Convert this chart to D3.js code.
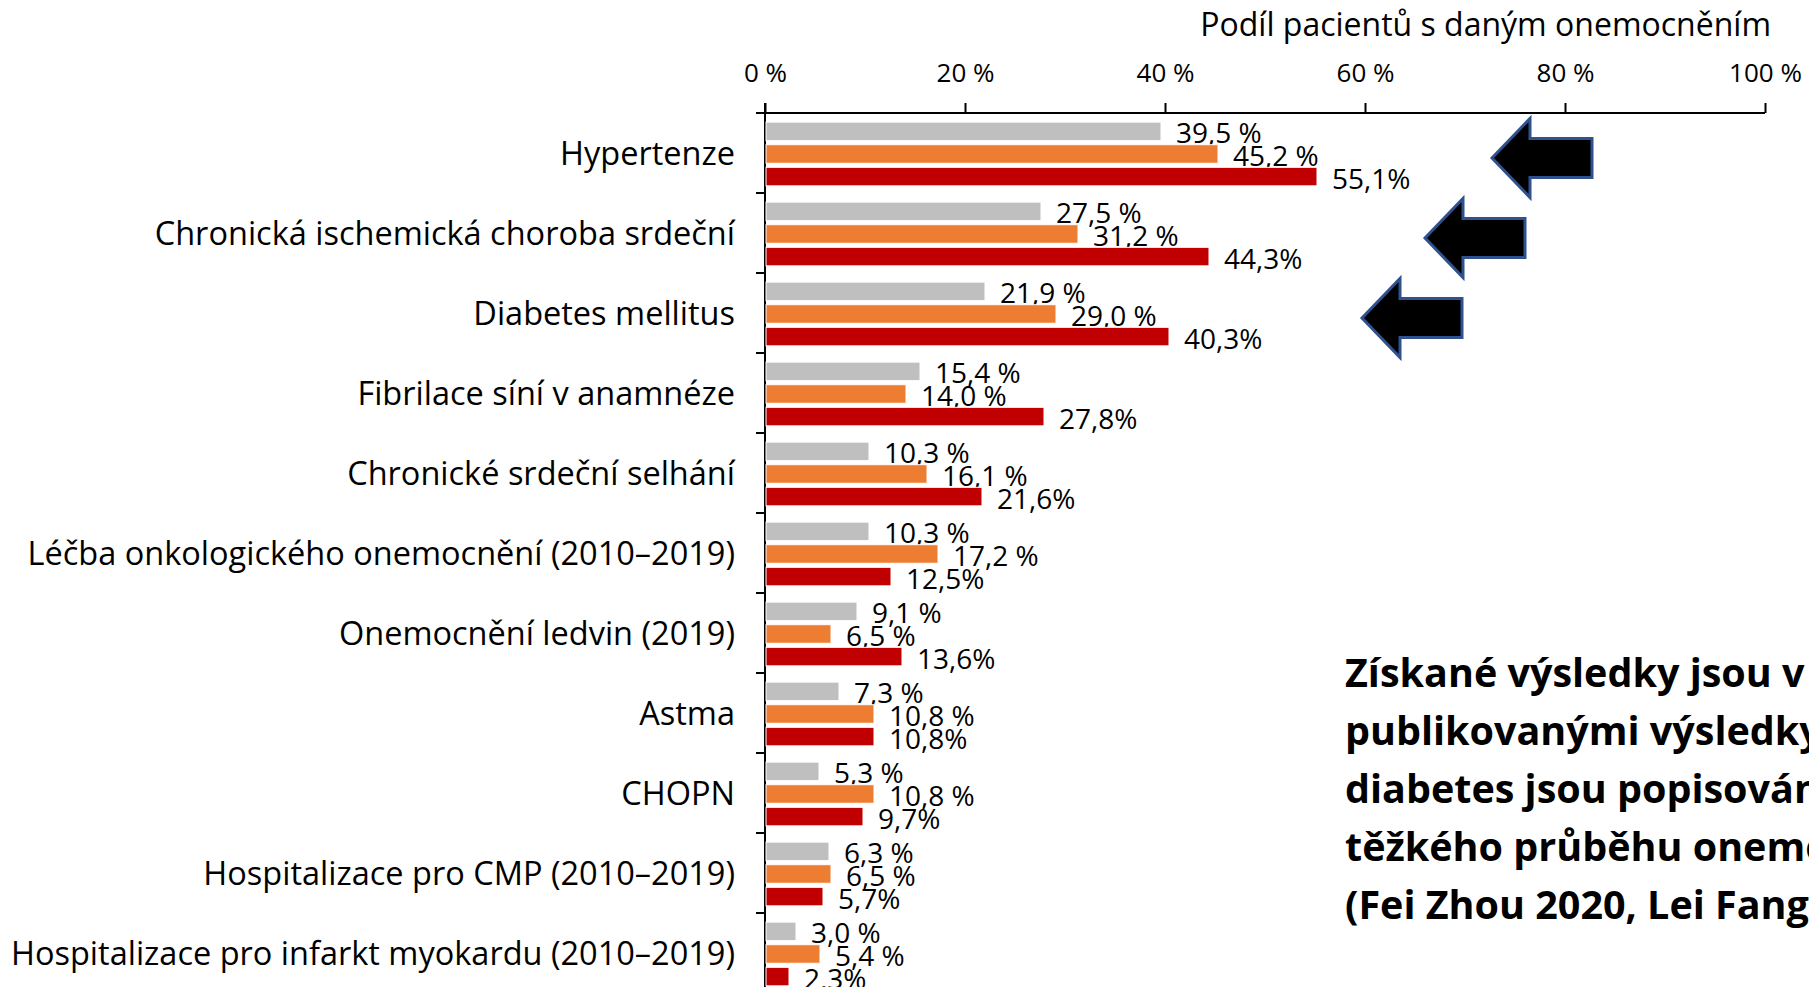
<!DOCTYPE html>
<html>
<head>
<meta charset="utf-8">
<script src="https://cdn.jsdelivr.net/npm/d3@7"></script>
<style>
  body { margin: 0; background: #fff; }
  svg { display: block; font-family: "Open Sans", Lato, sans-serif; }
</style>
</head>
<body>
<svg id="chart" width="1809" height="987"></svg>
<script>
// categories, top to bottom
var categories = [
  'Hypertenze',
  'Chronická ischemická choroba srdeční',
  'Diabetes mellitus',
  'Fibrilace síní v anamnéze',
  'Chronické srdeční selhání',
  'Léčba onkologického onemocnění (2010–2019)',
  'Onemocnění ledvin (2019)',
  'Astma',
  'CHOPN',
  'Hospitalizace pro CMP (2010–2019)',
  'Hospitalizace pro infarkt myokardu (2010–2019)'
]

// three series (grey, orange, red), in %
var seriesGrey = [39.5, 27.5, 21.9, 15.4, 10.3, 10.3, 9.1, 7.3, 5.3, 6.3, 3.0]
var seriesOrange = [45.2, 31.2, 29.0, 14.0, 16.1, 17.2, 6.5, 10.8, 10.8, 6.5, 5.4]
var seriesRed = [55.1, 44.3, 40.3, 27.8, 21.6, 12.5, 13.6, 10.8, 9.7, 5.7, 2.3]

var xTicks = [0, 20, 40, 60, 80, 100]
var axisTitle = 'Podíl pacientů s daným onemocněním'

// arrows point at the first three categories, tip given in axis %
var arrowCats = ['Hypertenze', 'Chronická ischemická choroba srdeční', 'Diabetes mellitus']
var arrowTips = [72.7, 66.0, 59.7]

var noteLines = [
  'Získané výsledky jsou v souladu s',
  'publikovanými výsledky – hypertenze a',
  'diabetes jsou popisovány jako rizikové faktory',
  'těžkého průběhu onemocnění COVID-19',
  '(Fei Zhou 2020, Lei Fang 2020)'
]

var colors = ['#BFBFBF', '#ED7D31', '#C00000']
var series = [seriesGrey, seriesOrange, seriesRed]

var svg = d3.select('#chart')
var plotLeft = 765, plotTop = 113, plotW = 1000, band = 80

var x = d3.scaleLinear().domain([0, 100]).range([plotLeft, plotLeft + plotW])
var y = d3.scaleBand().domain(categories).range([plotTop, plotTop + band * categories.length])
var ySub = d3.scaleBand().domain([0, 1, 2]).range([0, y.bandwidth()]).paddingInner(0.18).paddingOuter(0.36).align(0.56)

/** x axis on top */
var xAxis = d3.axisTop(x).tickValues(xTicks).tickSize(10).tickFormat(function (d) { return d + ' %' })
var gx = svg.append('g').attr('transform', 'translate(0,' + plotTop + ')').call(xAxis)
gx.attr('font-family', null).attr('font-size', null)
gx.select('.domain').attr('d', 'M' + (plotLeft - 9) + ',0H' + (plotLeft + plotW)).style('stroke', '#000').style('stroke-width', '2')
gx.selectAll('.tick line').style('stroke', '#000').style('stroke-width', '2')
gx.selectAll('.tick text').attr('y', -31).style('font-size', '26px').style('fill', '#000')

svg.append('text').attr('x', plotLeft + plotW + 6).attr('y', 36).attr('text-anchor', 'end')
  .style('font-size', '32px').text(axisTitle)

/** y axis line and ticks at band edges */
svg.append('line').attr('x1', plotLeft).attr('x2', plotLeft).attr('y1', plotTop - 10).attr('y2', plotTop + band * categories.length)
  .style('stroke', '#000').style('stroke-width', '2')
var edges = categories.map(function (c) { return y(c) }).concat([y.range()[1]])
svg.selectAll('.ytick').data(edges).enter().append('line').attr('class', 'ytick')
  .attr('x1', plotLeft - 9).attr('x2', plotLeft).attr('y1', function (d) { return d }).attr('y2', function (d) { return d })
  .style('stroke', '#000').style('stroke-width', '2')

svg.selectAll('.cat').data(categories).enter().append('text').attr('class', 'cat')
  .attr('x', plotLeft - 30).attr('y', function (d) { return y(d) + band / 2 - 1 })
  .attr('text-anchor', 'end').attr('dominant-baseline', 'central')
  .style('font-size', '32.5px').text(function (d) { return d })

/** bars and labels */
series.forEach(function (vals, s) {
  var g = svg.append('g')
  g.selectAll('rect').data(vals).enter().append('rect')
    .attr('x', x(0) + 1)
    .attr('y', function (d, i) { return y(categories[i]) + ySub(s) })
    .attr('width', function (d) { return x(d) - x(0) })
    .attr('height', ySub.bandwidth())
    .style('fill', colors[s]).style('stroke', '#fff').style('stroke-width', '1')
  g.selectAll('text').data(vals).enter().append('text')
    .attr('x', function (d) { return x(d) + 16 })
    .attr('y', function (d, i) { return y(categories[i]) + ySub(s) + ySub.bandwidth() / 2 + 1 })
    .attr('dominant-baseline', 'central')
    .style('font-size', '28px')
    .text(function (d) {
      var t = d.toFixed(1).replace('.', ',')
      return s == 2 ? t + '%' : t + ' %'
    })
})

/** block arrows */
arrowCats.forEach(function (c, i) {
  var tx = x(arrowTips[i]), cy = y(c) + band / 2 + 5
  var p = d3.path()
  p.moveTo(tx, cy)
  p.lineTo(tx + 38, cy - 39.5)
  p.lineTo(tx + 38, cy - 19.5)
  p.lineTo(tx + 100, cy - 19.5)
  p.lineTo(tx + 100, cy + 19.5)
  p.lineTo(tx + 38, cy + 19.5)
  p.lineTo(tx + 38, cy + 39.5)
  p.closePath()
  svg.append('path').attr('d', p.toString())
    .style('fill', '#000').style('stroke', '#2F528F').style('stroke-width', '3')
})

/** note text on the right */
svg.selectAll('.note').data(noteLines).enter().append('text').attr('class', 'note')
  .attr('x', 1345).attr('y', function (d, i) { return 687 + i * 58 })
  .style('font-size', '39.5px').style('font-weight', 'bold').text(function (d) { return d })
</script>
</body>
</html>
